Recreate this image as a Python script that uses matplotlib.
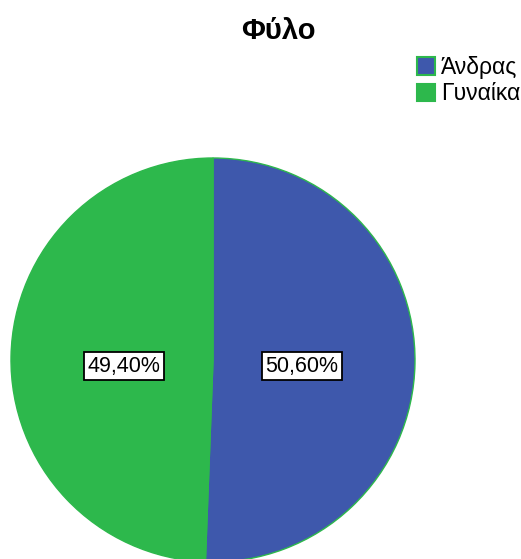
import matplotlib.pyplot as plt
from matplotlib.patches import Patch

plt.rcParams['font.family'] = ['Liberation Sans', 'DejaVu Sans']

categories = ['Άνδρας', 'Γυναίκα']
shares = [50.6, 49.4]
colors = ['#3e58ac', '#2db84c']
edge = '#2db84c'

W, H = 521, 559
fig = plt.figure(figsize=(W / 100, H / 100), dpi=100)

# pie axes placed in pixel terms: centre (213, 360), radius 202
cx, cy, r = 213, 360, 202
ax = fig.add_axes([(cx - r) / W, (H - cy - r) / H, 2 * r / W, 2 * r / H])
wedges, texts, autotexts = ax.pie(
    shares, colors=colors, startangle=90, counterclock=False,
    radius=1, wedgeprops=dict(edgecolor=edge, linewidth=1),
    autopct=lambda p: f'{p:.2f}%'.replace('.', ','), pctdistance=0.44,
    textprops=dict(fontsize=15.5, color='black'))
# keep both percentage boxes on one baseline, slightly below centre
for t in autotexts:
    x, _ = t.get_position()
    t.set_position((x, -0.03))
    t.set_bbox(dict(facecolor='white', edgecolor='black', linewidth=1.3, pad=2.5))
ax.set_xlim(-1, 1)
ax.set_ylim(-1, 1)
ax.set_aspect('auto')
ax.axis('off')

fig.text(278 / W, 1 - 31 / H, 'Φύλο', ha='center', va='center',
         fontsize=21, fontweight='bold')

handles = [Patch(facecolor=c, edgecolor=edge, linewidth=1.5) for c in colors]
fig.legend(handles, categories, loc='upper left', bbox_to_anchor=(417 / W, 1 - 56 / H),
           frameon=False, fontsize=16.5, handlelength=0.8, handleheight=0.8,
           handletextpad=0.25, labelspacing=0.15, borderaxespad=0, borderpad=0)

fig.savefig('out.png', dpi=100)
